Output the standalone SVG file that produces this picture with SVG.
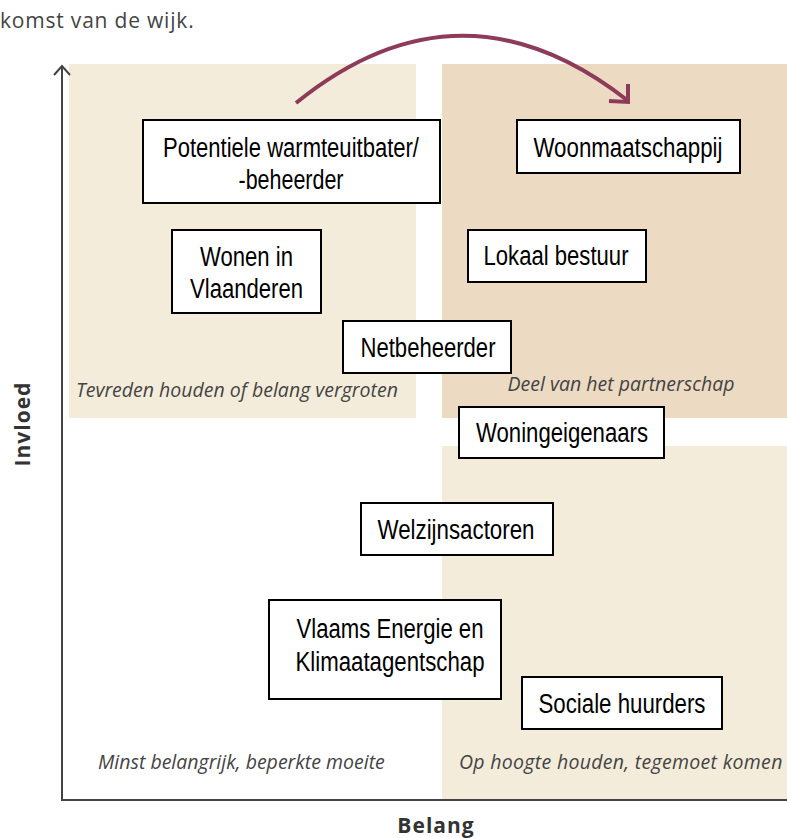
<svg xmlns="http://www.w3.org/2000/svg" width="787" height="838" viewBox="0 0 787 838">
  <style>
    .box { fill: #ffffff; stroke: #000000; stroke-width: 2; }
    .lbl { font-family: "Liberation Sans", Arial, sans-serif; font-size: 27px; fill: #000000; text-anchor: middle; }
    .quad { font-family: "Open Sans", "DejaVu Sans", sans-serif; font-style: italic; font-size: 19.5px; fill: #444444; }
    .axis { stroke: #444444; stroke-width: 2; fill: none; }
    .title { font-family: "Open Sans", "DejaVu Sans", sans-serif; font-weight: bold; font-size: 21px; letter-spacing: 1px; fill: #333333; text-anchor: middle; }
  </style>

  <!-- intro text -->
  <text x="0" y="28" font-family="Open Sans, DejaVu Sans, sans-serif" font-size="21" letter-spacing="0.8" fill="#444444">komst van de wijk.</text>

  <!-- quadrant backgrounds -->
  <g id="quadrants">
    <rect x="69" y="64" width="347" height="354" fill="#f4ecdb"/>
    <rect x="442" y="64" width="345" height="354" fill="#ecdbc2"/>
    <rect x="442" y="446" width="345" height="354" fill="#f4ecdb"/>
  </g>

  <!-- axes -->
  <g id="axes">
    <path class="axis" d="M62,66 V800 H787"/>
    <path class="axis" d="M54,75 L62,66 L70,75"/>
    <text class="title" letter-spacing="1.5" transform="translate(30,424) rotate(-90)">Invloed</text>
    <text class="title" x="436" y="833">Belang</text>
  </g>

  <!-- quadrant captions -->
  <g id="captions">
    <text class="quad" x="76" y="397">Tevreden houden of belang vergroten</text>
    <text class="quad" x="621" y="391" text-anchor="middle">Deel van het partnerschap</text>
    <text class="quad" x="98" y="769">Minst belangrijk, beperkte moeite</text>
    <text class="quad" x="459" y="769" letter-spacing="0.3">Op hoogte houden, tegemoet komen</text>
  </g>

  <!-- connectors -->
  <g id="connectors" fill="none" stroke="#8e3a59" stroke-width="4" stroke-linecap="butt">
    <path d="M296,103 Q460,-30 627,100"/>
    <path d="M609,101 L628,102 L628,84"/>
  </g>

  <!-- nodes (labels condensed to fit the boxes) -->
  <g id="node-warmte">
    <rect class="box" x="143" y="120" width="297" height="83"/>
    <text class="lbl" x="291" y="157" textLength="256" lengthAdjust="spacingAndGlyphs">Potentiele warmteuitbater/</text>
    <text class="lbl" x="291" y="189" textLength="105" lengthAdjust="spacingAndGlyphs">-beheerder</text>
  </g>
  <g id="node-woonmaatschappij">
    <rect class="box" x="517" y="120" width="223" height="53"/>
    <text class="lbl" x="628" y="157" textLength="189" lengthAdjust="spacingAndGlyphs">Woonmaatschappij</text>
  </g>
  <g id="node-wonen">
    <rect class="box" x="172" y="230" width="149" height="83"/>
    <text class="lbl" x="246.5" y="266" textLength="93" lengthAdjust="spacingAndGlyphs">Wonen in</text>
    <text class="lbl" x="246.5" y="298" textLength="113" lengthAdjust="spacingAndGlyphs">Vlaanderen</text>
  </g>
  <g id="node-lokaal">
    <rect class="box" x="468" y="230" width="178" height="52"/>
    <text class="lbl" x="556" y="265" textLength="145" lengthAdjust="spacingAndGlyphs">Lokaal bestuur</text>
  </g>
  <g id="node-netbeheerder">
    <rect class="box" x="343" y="321" width="168" height="52"/>
    <text class="lbl" x="428" y="357" textLength="135" lengthAdjust="spacingAndGlyphs">Netbeheerder</text>
  </g>
  <g id="node-woningeigenaars">
    <rect class="box" x="459" y="407" width="205" height="51"/>
    <text class="lbl" x="562" y="442" textLength="172" lengthAdjust="spacingAndGlyphs">Woningeigenaars</text>
  </g>
  <g id="node-welzijn">
    <rect class="box" x="361" y="503" width="192" height="52"/>
    <text class="lbl" x="456" y="539" textLength="157" lengthAdjust="spacingAndGlyphs">Welzijnsactoren</text>
  </g>
  <g id="node-vek">
    <rect class="box" x="269" y="600" width="232" height="99"/>
    <text class="lbl" x="390" y="638" textLength="187" lengthAdjust="spacingAndGlyphs">Vlaams Energie en</text>
    <text class="lbl" x="390" y="671" textLength="189" lengthAdjust="spacingAndGlyphs">Klimaatagentschap</text>
  </g>
  <g id="node-sociale">
    <rect class="box" x="522" y="677" width="200" height="52"/>
    <text class="lbl" x="622" y="713" textLength="167" lengthAdjust="spacingAndGlyphs">Sociale huurders</text>
  </g>
</svg>
